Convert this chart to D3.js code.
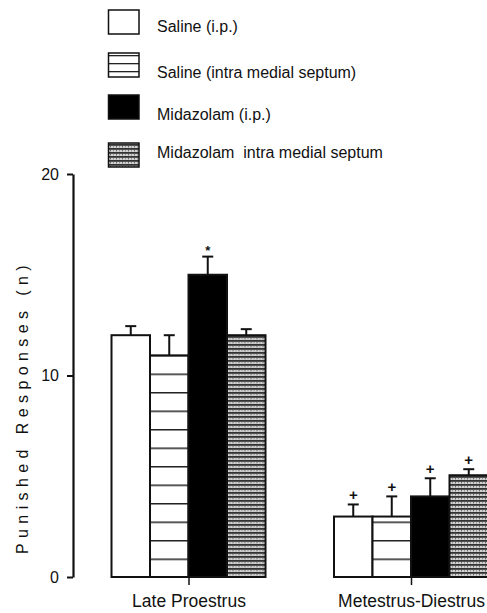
<!DOCTYPE html>
<html>
<head>
<meta charset="utf-8">
<script src="https://cdn.jsdelivr.net/npm/d3@7"></script>
<style>
  body { margin: 0; background: #fff; }
  text { font-family: "Liberation Sans", Arial, sans-serif; fill: #111; }
</style>
</head>
<body>
<div id="chart-area"></div>
<script>
// Data
var phases = ["Late Proestrus", "Metestrus-Diestrus"];
var treatments = ["Saline (i.p.)", "Saline (intra medial septum)", "Midazolam (i.p.)", "Midazolam  intra medial septum"];
var means = [
  [12.0, 11.0, 15.0, 12.0],
  [3.0, 3.0, 4.0, 5.05]
];
var sems = [
  [0.45, 1.0, 0.9, 0.3],
  [0.6, 1.0, 0.9, 0.3]
];
var marks = [
  ["", "", "*", ""],
  ["+", "+", "+", "+"]
];
var yTicks = [0, 10, 20];

// Canvas
var canvasWidth = 487;
var canvasHeight = 613;

var svg = d3.select("#chart-area")
  .append("svg")
  .attr("width", canvasWidth)
  .attr("height", canvasHeight);

// Patterns
var defs = svg.append("defs");

var hLines = defs.append("pattern")
  .attr("id", "hlines")
  .attr("patternUnits", "userSpaceOnUse")
  .attr("width", 10)
  .attr("height", 18.5)
  .attr("y", 577);
hLines.append("rect").attr("width", 10).attr("height", 18.5).attr("fill", "#fff");
hLines.append("rect").attr("y", 0).attr("width", 10).attr("height", 1.5).attr("fill", "#222");

var legLines = defs.append("pattern")
  .attr("id", "leglines")
  .attr("patternUnits", "userSpaceOnUse")
  .attr("width", 10)
  .attr("height", 8)
  .attr("y", 63);
legLines.append("rect").attr("width", 10).attr("height", 8).attr("fill", "#fff");
legLines.append("rect").attr("width", 10).attr("height", 1.3).attr("fill", "#222");

var grid = defs.append("pattern")
  .attr("id", "grid")
  .attr("patternUnits", "userSpaceOnUse")
  .attr("width", 6)
  .attr("height", 4);
grid.append("rect").attr("width", 6).attr("height", 4).attr("fill", "#d2d2d2");
grid.append("rect").attr("y", 0).attr("width", 6).attr("height", 1.8).attr("fill", "#333");
grid.append("rect").attr("x", 2).attr("y", 2).attr("width", 1).attr("height", 1.4).attr("fill", "#666");
grid.append("rect").attr("x", 5).attr("y", 2.2).attr("width", 1).attr("height", 1.2).attr("fill", "#888");

var fills = ["#fff", "url(#hlines)", "#000", "url(#grid)"];
var legendFills = ["#fff", "url(#leglines)", "#000", "url(#grid)"];

// Scales
var y = d3.scaleLinear()
  .domain([0, 20])
  .range([577, 174]);

var x0 = d3.scalePoint()
  .domain(phases)
  .range([188.5, 411]);

var x1 = d3.scaleBand()
  .domain(treatments)
  .range([-77, 77]);

// Y axis
var yAxis = svg.append("g")
  .attr("transform", "translate(73,0)")
  .call(d3.axisLeft(y).tickValues(yTicks).tickSize(6).tickSizeOuter(0).tickPadding(8));
yAxis.select(".domain").attr("stroke", "#111").attr("stroke-width", 2.2);
yAxis.selectAll(".tick line").attr("stroke", "#111").attr("stroke-width", 2);
yAxis.selectAll(".tick text")
  .attr("font-size", "16px")
  .attr("font-family", "Liberation Sans, Arial, sans-serif")
  .attr("fill", "#111");

// Y label
svg.append("text")
  .attr("transform", "translate(28,407) rotate(-90)")
  .attr("text-anchor", "middle")
  .attr("font-size", "16px")
  .attr("letter-spacing", "5.4px")
  .text("Punished Responses (n)");

// X axis (ticks + labels only)
var xAxis = svg.append("g")
  .attr("transform", "translate(0,577)")
  .call(d3.axisBottom(x0).tickSize(8).tickPadding(10));
xAxis.select(".domain").remove();
xAxis.selectAll(".tick line").attr("stroke", "#111").attr("stroke-width", 1.5);
xAxis.selectAll(".tick text")
  .attr("font-size", "17.5px")
  .attr("font-family", "Liberation Sans, Arial, sans-serif")
  .attr("fill", "#111");

// Bars
var groups = svg.selectAll("g.phase")
  .data(phases)
  .enter()
  .append("g")
  .attr("class", "phase")
  .attr("transform", function(d) { return "translate(" + x0(d) + ",0)"; });

groups.each(function(p, pi) {
  var g = d3.select(this);
  var rows = treatments.map(function(t, ti) {
    return { t: t, ti: ti, mean: means[pi][ti], sem: sems[pi][ti], mark: marks[pi][ti] };
  });

  // Error bars (upward only)
  g.selectAll("line.err")
    .data(rows)
    .enter()
    .append("line")
    .attr("class", "err")
    .attr("x1", function(d) { return x1(d.t) + x1.bandwidth() / 2; })
    .attr("x2", function(d) { return x1(d.t) + x1.bandwidth() / 2; })
    .attr("y1", function(d) { return y(d.mean); })
    .attr("y2", function(d) { return y(d.mean + d.sem); })
    .attr("stroke", "#111")
    .attr("stroke-width", 2);

  g.selectAll("line.cap")
    .data(rows)
    .enter()
    .append("line")
    .attr("class", "cap")
    .attr("x1", function(d) { return x1(d.t) + x1.bandwidth() / 2 - 5.5; })
    .attr("x2", function(d) { return x1(d.t) + x1.bandwidth() / 2 + 5.5; })
    .attr("y1", function(d) { return y(d.mean + d.sem); })
    .attr("y2", function(d) { return y(d.mean + d.sem); })
    .attr("stroke", "#111")
    .attr("stroke-width", 2);

  g.selectAll("rect.bar")
    .data(rows)
    .enter()
    .append("rect")
    .attr("class", "bar")
    .attr("x", function(d) { return x1(d.t); })
    .attr("y", function(d) { return y(d.mean); })
    .attr("width", x1.bandwidth())
    .attr("height", function(d) { return y(0) - y(d.mean); })
    .attr("fill", function(d) { return fills[d.ti]; })
    .attr("stroke", "#111")
    .attr("stroke-width", 2);

  // Significance marks
  g.selectAll("text.mark")
    .data(rows.filter(function(d) { return d.mark; }))
    .enter()
    .append("text")
    .attr("class", "mark")
    .attr("x", function(d) { return x1(d.t) + x1.bandwidth() / 2; })
    .attr("y", function(d) { return y(d.mean + d.sem) - (d.mark == "*" ? 2 : 4); })
    .attr("text-anchor", "middle")
    .attr("font-size", function(d) { return d.mark == "*" ? "13px" : "15px"; })
    .attr("font-weight", "bold")
    .text(function(d) { return d.mark; });
});

// Legend
var legendBoxY = [10, 53, 95, 143];
var legendTextY = [32, 78, 120, 158];
var legend = svg.append("g");
treatments.forEach(function(t, i) {
  legend.append("rect")
    .attr("x", 108.5)
    .attr("y", legendBoxY[i])
    .attr("width", 30.5)
    .attr("height", 24)
    .attr("fill", legendFills[i])
    .attr("stroke", "#111")
    .attr("stroke-width", 1.5);
  legend.append("text")
    .attr("x", 157)
    .attr("y", legendTextY[i])
    .attr("font-size", "16px")
    .style("white-space", "pre")
    .text(t);
});
</script>
</body>
</html>
